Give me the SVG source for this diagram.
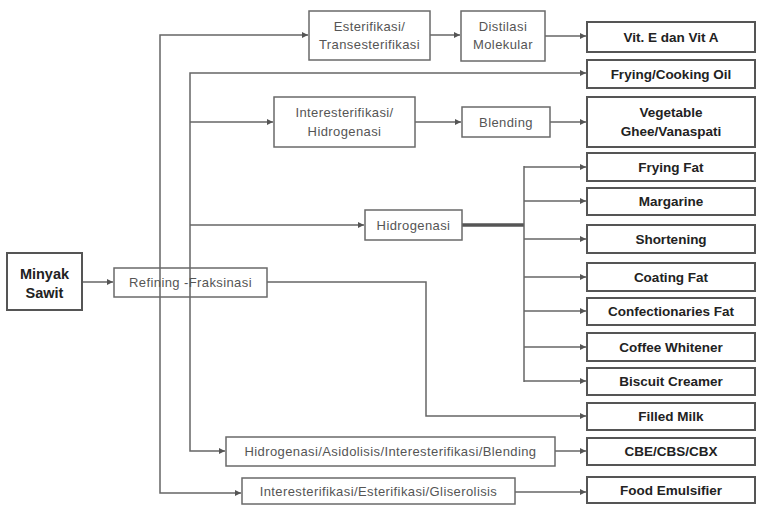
<svg xmlns="http://www.w3.org/2000/svg" width="758" height="507" viewBox="0 0 758 507">
<style>
  .p rect{fill:none;stroke:#6a6a6a;stroke-width:1.5}
  .p text{font-family:"Liberation Sans",Arial,sans-serif;font-size:13px;letter-spacing:0.4px;fill:#555;text-anchor:middle}
  .o rect{fill:none;stroke:#555;stroke-width:2}
  .o text{font-family:"Liberation Sans",Arial,sans-serif;font-size:13.5px;font-weight:bold;fill:#222;text-anchor:middle}
  .c path{fill:none;stroke:#666;stroke-width:1.5}
  .c path.thick{stroke:#555;stroke-width:3.5}
</style>
<defs>
  <marker id="ah" viewBox="0 0 10 10" refX="10" refY="5" markerWidth="6" markerHeight="6" markerUnits="userSpaceOnUse" orient="auto">
    <path d="M0,0 L10,5 L0,10 z" fill="#555"/>
  </marker>
</defs>
<rect width="758" height="507" fill="#fff"/>
<g class="c">
  <path d="M82,282 H113" marker-end="url(#ah)"/>
  <path d="M160,282 V35 H308" marker-end="url(#ah)"/>
  <path d="M160,282 V493 H241" marker-end="url(#ah)"/>
  <path d="M190,282 V73 H586" marker-end="url(#ah)"/>
  <path d="M190,122 H273" marker-end="url(#ah)"/>
  <path d="M190,225 H364" marker-end="url(#ah)"/>
  <path d="M190,282 V451 H225" marker-end="url(#ah)"/>
  <path d="M267,282 H426 V416 H586" marker-end="url(#ah)"/>
  <path d="M430,35 H460" marker-end="url(#ah)"/>
  <path d="M545,36 H586" marker-end="url(#ah)"/>
  <path d="M415,122 H461" marker-end="url(#ah)"/>
  <path d="M550,122 H586" marker-end="url(#ah)"/>
  <path class="thick" d="M462,225 H524"/>
  <path d="M524,166 V382"/>
  <path d="M524,167 H586" marker-end="url(#ah)"/>
  <path d="M524,201 H586" marker-end="url(#ah)"/>
  <path d="M524,239 H586" marker-end="url(#ah)"/>
  <path d="M524,277 H586" marker-end="url(#ah)"/>
  <path d="M524,311 H586" marker-end="url(#ah)"/>
  <path d="M524,347 H586" marker-end="url(#ah)"/>
  <path d="M524,381 H586" marker-end="url(#ah)"/>
  <path d="M555,451 H586" marker-end="url(#ah)"/>
  <path d="M515,492 H586" marker-end="url(#ah)"/>
</g>
<g id="minyak" class="o"><rect x="7" y="253" width="75" height="57"/><text x="44.5" y="279" style="font-size:14.5px">Minyak</text><text x="44.5" y="298" style="font-size:14.5px">Sawit</text></g>
<g id="refining" class="p"><rect x="114" y="268" width="153" height="29"/><text x="190.5" y="287">Refining -Fraksinasi</text></g>
<g id="esterifikasi" class="p"><rect x="309" y="11" width="121" height="49"/><text x="369.5" y="31">Esterifikasi/</text><text x="369.5" y="49">Transesterifikasi</text></g>
<g id="distilasi" class="p"><rect x="461" y="11" width="84" height="50"/><text x="503" y="31">Distilasi</text><text x="503" y="49">Molekular</text></g>
<g id="interhidro" class="p"><rect x="274" y="97" width="141" height="50"/><text x="344.5" y="117">Interesterifikasi/</text><text x="344.5" y="136">Hidrogenasi</text></g>
<g id="blending" class="p"><rect x="462" y="107" width="88" height="30"/><text x="506" y="127">Blending</text></g>
<g id="hidrogenasi" class="p"><rect x="365" y="210" width="97" height="30"/><text x="413.5" y="230">Hidrogenasi</text></g>
<g id="hidroasido" class="p"><rect x="226" y="437" width="329" height="29"/><text x="390.5" y="456">Hidrogenasi/Asidolisis/Interesterifikasi/Blending</text></g>
<g id="interester" class="p"><rect x="242" y="478" width="273" height="26"/><text x="378.5" y="496">Interesterifikasi/Esterifikasi/Gliserolisis</text></g>
<g id="vite" class="o"><rect x="587" y="22" width="168" height="30"/><text x="671" y="42">Vit. E dan Vit A</text></g>
<g id="frying" class="o"><rect x="587" y="60" width="168" height="28"/><text x="671" y="79">Frying/Cooking Oil</text></g>
<g id="ghee" class="o"><rect x="587" y="97" width="168" height="50"/><text x="671" y="117">Vegetable</text><text x="671" y="136">Ghee/Vanaspati</text></g>
<g id="fryingfat" class="o"><rect x="587" y="153" width="168" height="28"/><text x="671" y="172">Frying Fat</text></g>
<g id="margarine" class="o"><rect x="587" y="188" width="168" height="27"/><text x="671" y="206">Margarine</text></g>
<g id="shortening" class="o"><rect x="587" y="225" width="168" height="28"/><text x="671" y="244">Shortening</text></g>
<g id="coating" class="o"><rect x="587" y="263" width="168" height="28"/><text x="671" y="282">Coating Fat</text></g>
<g id="confect" class="o"><rect x="587" y="298" width="168" height="27"/><text x="671" y="316">Confectionaries Fat</text></g>
<g id="coffee" class="o"><rect x="587" y="333" width="168" height="28"/><text x="671" y="352">Coffee Whitener</text></g>
<g id="biscuit" class="o"><rect x="587" y="368" width="168" height="27"/><text x="671" y="386">Biscuit Creamer</text></g>
<g id="filled" class="o"><rect x="587" y="403" width="168" height="27"/><text x="671" y="421">Filled Milk</text></g>
<g id="cbe" class="o"><rect x="587" y="438" width="168" height="27"/><text x="671" y="456">CBE/CBS/CBX</text></g>
<g id="food" class="o"><rect x="587" y="477" width="168" height="26"/><text x="671" y="495">Food Emulsifier</text></g>
</svg>
